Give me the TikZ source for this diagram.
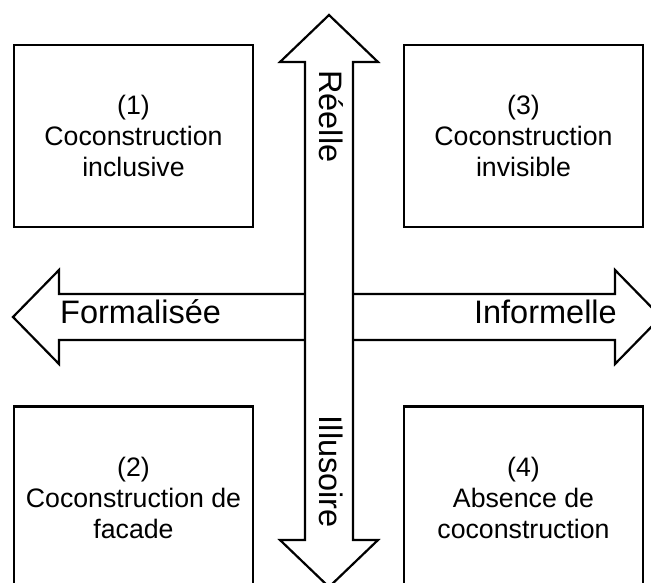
\documentclass[tikz,border=0pt]{standalone}
\usepackage{fontspec}
\setmainfont{Liberation Sans}
\usepackage{tikz}
\usetikzlibrary{positioning}
\tikzset{quadrant/.style={rectangle,draw=black,line width=2.2pt,minimum width=239pt,minimum height=182pt,align=center,font=\fontsize{26.7}{31}\selectfont}}
\tikzset{axe/.style={draw=black,fill=white,line width=2.2pt,line join=miter}}
\tikzset{axelabel/.style={inner sep=0pt,font=\fontsize{32.5}{38}\selectfont}}

\begin{document}
\begin{tikzpicture}[x=1pt,y=-1pt]
      \useasboundingbox (0,0) rectangle (651,583);
      \node (q1) at (133.5,136)[quadrant] {(1)\\Coconstruction\\inclusive};
      \node (q3) at (523.5,136)[quadrant] {(3)\\Coconstruction\\invisible};
      \node (q2) at (133.5,497.5)[quadrant] {(2)\\Coconstruction de\\facade};
      \node (q4) at (523.5,497.5)[quadrant] {(4)\\Absence de\\coconstruction};
        % axe horizontal
        \draw [axe] (13,317) -- (59,270) -- (59,294) -- (615,294) -- (615,270) -- (661,317)
          -- (615,364) -- (615,340) -- (59,340) -- (59,364) -- cycle;
        % axe vertical
        \draw [axe] (329,15) -- (378,62) -- (353,62) -- (353,540) -- (378,540) -- (329,587)
          -- (280,540) -- (305,540) -- (305,62) -- (280,62) -- cycle;
      \node (formel) at (60,323)[axelabel,anchor=base west] {Formalisée};
      \node (informel) at (617,323)[axelabel,anchor=base east] {Informelle};
      \node (reel) at (319,70)[axelabel,rotate=-90,anchor=base west] {Réelle};
      \node (illusoire) at (319,528)[axelabel,rotate=-90,anchor=base east] {Illusoire};
        
        \end{tikzpicture}
\end{document}
